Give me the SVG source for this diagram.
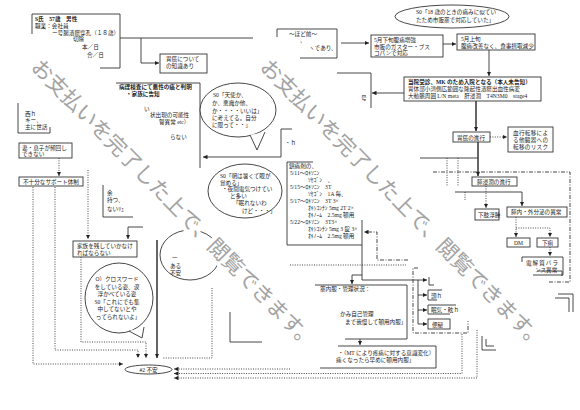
<svg xmlns="http://www.w3.org/2000/svg" width="580" height="410" viewBox="0 0 580 410">
<defs>
<marker id="ah" viewBox="0 0 6 6" refX="6" refY="3" markerWidth="4.5" markerHeight="4.5" markerUnits="userSpaceOnUse" orient="auto"><path d="M0,0L6,3L0,6z" fill="#222"/></marker>
</defs>
<style>
.bx{fill:#fff;stroke:#333;stroke-width:0.9}
.fr{fill:none;stroke:#333;stroke-width:0.9}
.ln{fill:none;stroke:#333;stroke-width:0.9}
.th{fill:none;stroke:#666;stroke-width:2}
.dt{fill:none;stroke:#333;stroke-width:0.9;stroke-dasharray:1 1.4}
.dd{fill:none;stroke:#333;stroke-width:0.9;stroke-dasharray:4 1.5 1 1.5}
.bub{fill:#fff;stroke:#333;stroke-width:0.9}
text{font-family:'Liberation Serif','Noto Sans CJK JP',serif;font-size:5.6px;fill:#222}
.b{font-weight:bold}
.m{text-anchor:middle}
.wm{font-family:'Noto Sans CJK JP',sans-serif;font-size:21px;fill:#a3a3a3;stroke:#fff;stroke-width:8;stroke-linejoin:round;paint-order:stroke}
</style>
<rect width="580" height="410" fill="#fff"/>

<g id="connectors">
<path class="ln" d="M120,38H253"/>
<path class="ln" d="M141,38V63H159" marker-end="url(#ah)"/>
<path class="ln" d="M341,43H369" marker-end="url(#ah)"/>
<path class="ln" d="M443,44H456" marker-end="url(#ah)"/>
<path class="ln" d="M489,50V76" marker-end="url(#ah)"/>
<path class="ln" d="M404,93H372" marker-end="url(#ah)"/>
<path class="th" d="M476,101V131" marker-end="url(#ah)"/>
<path class="dt" d="M490,137H507" marker-end="url(#ah)"/>
<path class="th" d="M478,142V176" marker-end="url(#ah)"/>
<path class="ln" d="M420,158H478"/>
<path class="dt" d="M447,158V186M458,158V186"/>
<path class="ln" d="M455,192H522V206" marker-end="url(#ah)"/>
<path class="dt" d="M465,192V200"/>
<path class="dt" d="M486,186V208" marker-end="url(#ah)"/>
<path class="dt" d="M516,217V237" marker-end="url(#ah)"/>
<path class="dt" d="M516,228H550V237" marker-end="url(#ah)"/>
<path class="dt" d="M550,247V256" marker-end="url(#ah)"/>
<path class="dd" d="M433,172H570V282H548"/>
<path class="dd" d="M418,268H413V333H468V321"/>
<path class="dd" d="M408,260H377V232H364" marker-end="url(#ah)"/>
<path class="dt" d="M290,265H406"/>
<path class="ln" d="M362,245V280H427" marker-end="url(#ah)"/>
<path class="ln" d="M362,275H352V284" marker-end="url(#ah)"/>
<path class="ln" d="M418,280V324"/>
<path class="ln" d="M418,295H427" marker-end="url(#ah)"/>
<path class="ln" d="M418,310H427" marker-end="url(#ah)"/>
<path class="ln" d="M418,324H427" marker-end="url(#ah)"/>
<path class="ln" d="M360,339V345" marker-end="url(#ah)"/>
<path class="dt" d="M290,369H174" marker-end="url(#ah)"/>
<path class="dt" d="M462,334V373.5H174" marker-end="url(#ah)"/>
<path class="dt" d="M477,330V378H174" marker-end="url(#ah)"/>
<path class="dt" d="M33,187V364H123" marker-end="url(#ah)"/>
<path class="dt" d="M55,187V350H138V358" marker-end="url(#ah)"/>
<path class="dt" d="M81,257V342H146V358" marker-end="url(#ah)"/>
<path class="th" d="M157,240V358" marker-end="url(#ah)"/>
<path class="dt" d="M212,288V358H163"/>
<path class="dt" d="M88,170V239" marker-end="url(#ah)"/>
<path class="ln" d="M143,227H128V239" marker-end="url(#ah)"/>
<path class="dt" d="M59,158V176" marker-end="url(#ah)"/>
<path class="ln" d="M292,129H281V157H203" marker-end="url(#ah)"/>
</g>

<g id="n-patient">
<path class="fr" d="M32,34V14H120V68H100"/>
<text x="35" y="21" class="b">S氏　57歳　男性</text>
<text x="35" y="28">職業：会社員</text>
<text x="52" y="35">ー号腸潰瘍穿孔（１８歳）</text>
<text x="73" y="41">切除</text>
<text x="82" y="49">本／日</text>
<text x="87" y="57">合／日</text>
</g>

<g id="n-knowledge">
<rect class="bx" x="160" y="54" width="47" height="19"/>
<text x="166" y="61">胃癌について</text>
<text x="166" y="68">の知識あり</text>
</g>

<g id="n-before">
<path class="fr" d="M277,37V29H337V58H300"/>
<text x="289" y="36">〜ほど前〜</text>
<text x="300" y="42">、</text>
<text x="309" y="50">ヽであり、</text>
</g>

<g id="n-late-may">
<rect class="bx" x="371" y="35" width="72" height="22"/>
<text x="374" y="42">5月下旬腹痛増強</text>
<text x="374" y="48.5">市販のガスター・ブス</text>
<text x="374" y="55">コパンで対応</text>
</g>

<g id="n-early-may">
<rect class="bx" x="457" y="34" width="78" height="16"/>
<text x="461" y="41">5月上旬</text>
<text x="461" y="47.5">腹痛改善なく、食事摂取減少</text>
</g>

<g id="n-bubble-18">
<ellipse class="bub" cx="452" cy="16.5" rx="57" ry="11.5"/>
<text x="416" y="14">S0「18 歳のときの痛みに似てい</text>
<text x="416" y="21.5">たため市販薬で対応していた」</text>
</g>

<g id="n-admission">
<rect class="bx" x="404" y="77" width="137" height="24"/>
<text x="408" y="84" class="b">当院受診、MK のため入院となる（本人未告知）</text>
<text x="408" y="91">胃体部小湾側広範囲な隆起性潰瘍出血性病変</text>
<text x="408" y="98">大動脈周囲 L/N meta　肝浸潤　T4N3M0　stage4</text>
</g>

<g id="n-boxc">
<path class="fr" d="M337,73H371V108"/>
<text x="361" y="100">号</text>
<text x="285" y="145">・ｈ</text>
</g>

<g id="n-pathology">
<path class="fr" d="M116,83H200V168"/>
<text x="119" y="89" class="b">病理検査にて悪性の癌と判明</text>
<text x="126" y="96" class="b">・家族に告知</text>
<text x="144" y="111">い</text>
<text x="150" y="117">状出現の可能性</text>
<text x="159" y="124">腎異常 etc）</text>
<text x="170" y="139">らない</text>
</g>

<g id="n-bubble-angel">
<ellipse class="bub" cx="238" cy="110" rx="38" ry="27"/>
<path class="bub" d="M250,135L257,150L265,132"/>
<text x="213" y="97">S0「天使か、</text>
<text x="212" y="105">か、悪魔か他、</text>
<text x="212" y="112.5">か・・・・いいは」</text>
<text x="212" y="120">に考えてる。自分</text>
<text x="212" y="127">に限って・・」</text>
</g>

<g id="n-bubble-morning">
<ellipse class="bub" cx="245" cy="191" rx="37" ry="27"/>
<text x="220" y="178">S0「朝は暑くて眼が</text>
<text x="220" y="184.5">覚める」</text>
<text x="222" y="191">・夜間電気つけてい</text>
<text x="230" y="198">と多い</text>
<text x="233" y="205">「眠れないわ</text>
<text x="242" y="212.5">けど・・・」</text>
</g>

<g id="n-meds">
<rect x="287" y="162" width="75" height="83" fill="#fff"/>
<path class="fr" d="M313,162H287V245H362V220"/>
<g style="font-size:5.3px">
<text x="289" y="168">鎮痛剤の、</text>
<text x="290" y="175">5/11〜ﾛｷｿﾆﾝ</text>
<text x="308" y="181.5">ｿｾｺﾞﾝ　、</text>
<text x="290" y="188.5">5/15〜ﾛｷｿﾆﾝ　3T</text>
<text x="308" y="195.5">ｿｾｺﾞﾝ　1A 毎、</text>
<text x="290" y="203">5/17〜ﾛｷｿﾆﾝ　3T 3×</text>
<text x="308" y="210">ｵｷｼｺﾝﾁﾝ 5mg 2T 2×</text>
<text x="308" y="217">ｵｷﾉｰﾑ　2.5mg 頓用</text>
<text x="290" y="224">5/22〜ﾛｷｿﾆﾝ　3T3×</text>
<text x="308" y="231">ｵｷｼｺﾝﾁﾝ 5mg 3 錠 3×</text>
<text x="308" y="238">ｵｷﾉｰﾑ　2.5mg 頓用</text>
</g>
</g>

<g id="n-gastric-progress">
<rect class="bx" x="453" y="132" width="37" height="10"/>
<text x="457" y="139.5">胃癌の進行</text>
</g>

<g id="n-metastasis">
<rect class="bx" x="508" y="127" width="45" height="25"/>
<text x="513" y="135" textLength="35" lengthAdjust="spacing">血行転移によ</text>
<text x="513" y="142" textLength="35" lengthAdjust="spacing">る他臓器への</text>
<text x="513" y="149" textLength="35" lengthAdjust="spacing">転移のリスク</text>
</g>

<g id="n-pancreas-progress">
<rect class="bx" x="472" y="177" width="45" height="9"/>
<text x="477" y="183.8">膵浸潤の進行</text>
</g>

<g id="n-edema">
<rect class="bx" x="475" y="209" width="24" height="11"/>
<text x="478" y="216.5">下肢浮腫</text>
</g>

<g id="n-pancreas-func">
<rect class="bx" x="507" y="207" width="60" height="10"/>
<text x="511" y="214.3">膵内・外分泌の異常</text>
</g>

<g id="n-dm">
<rect class="bx" x="507" y="238" width="23" height="9"/>
<text x="518.5" y="244.8" class="m">DM</text>
</g>

<g id="n-diarrhea">
<rect class="bx" x="537" y="238" width="21" height="9"/>
<text x="547.5" y="244.8" class="m">下痢</text>
</g>

<g id="n-electrolyte">
<path class="fr" d="M522,262V257H563V275H533"/>
<text x="526" y="265" textLength="32" lengthAdjust="spacing">電解質バラ</text>
<text x="535" y="272">ンス異常</text>
</g>

<g id="n-symptoms">
<path class="fr" d="M429,277V285H434"/>
<path class="fr" d="M442,290H428V300H437"/>
<text x="431" y="297.5">頭ｈ</text>
<path class="fr" d="M456,305H428V314H450"/>
<text x="431" y="312">眠気・眩ｈ</text>
<rect class="bx" x="428" y="319" width="22" height="10"/>
<text x="432" y="326.5">便秘</text>
</g>

<g id="n-med-manage">
<path class="fr" d="M315,285H407V339H345"/>
<text x="320" y="291">薬内服・管理状況：</text>
<text x="340" y="316">かみ自己管理</text>
<text x="345" y="324">まで我慢して頓用内服」</text>
</g>

<g id="n-mt">
<path class="fr" d="M338,346H436V368H320"/>
<text x="338" y="355">・（MT により疼痛に対する意識変化）</text>
<text x="336" y="362">痛くなったら早めに頓用内服」</text>
</g>

<g id="n-family-care">
<path class="fr" d="M18,103V133H50V127"/>
<text x="25" y="116">西ｈ</text>
<text x="25" y="121.5">キー、</text>
<text x="25" y="129">主に世話</text>
</g>

<g id="n-wife-son">
<rect class="bx" x="19" y="143" width="53" height="15"/>
<text x="22" y="150">妻・息子が頻回し</text>
<text x="22" y="156">できない</text>
</g>

<g id="n-support">
<rect class="bx" x="19" y="177" width="64" height="9"/>
<text x="23" y="183.8">不十分なサポート体制</text>
</g>

<g id="n-role">
<path class="fr" d="M103,185V217H133"/>
<text x="107" y="195">余</text>
<text x="107" y="202">持つ、</text>
<text x="107" y="211">ないﾘｭ</text>
</g>

<g id="n-leave-family">
<rect class="bx" x="73" y="241" width="64" height="16"/>
<text x="77" y="248">家族を残していかなけ</text>
<text x="77" y="254.5">ればならない</text>
</g>

<g id="n-bubble-anxiety">
<ellipse class="bub" cx="190" cy="255" rx="30" ry="25"/>
<text x="172" y="260">一</text>
<text x="170" y="267.5">ある</text>
<text x="170" y="275">不安</text>
</g>

<g id="n-bubble-crossword">
<ellipse class="bub" cx="119" cy="298" rx="34" ry="35"/>
<path class="bub" d="M129,331L142,338L144,327"/>
<text x="117" y="281" class="m">O）クロスワード</text>
<text x="117" y="288.5" class="m">をしている姿、涙</text>
<text x="117" y="296" class="m">浮かべている姿</text>
<text x="117" y="303.5" class="m">S0「これにでも集</text>
<text x="117" y="311" class="m">中してないとや</text>
<text x="118" y="318.5" class="m">ってられないよ」</text>
</g>

<g id="n-anxiety2">
<ellipse class="bub" cx="148.5" cy="369.5" rx="23.5" ry="4.5"/>
<text x="148.5" y="371.6" class="m">#2 不安</text>
</g>

<g id="fragments">
<path class="fr" d="M230,312V342H262"/>
<path class="fr" d="M537,271H562V276"/>
<path class="fr" d="M558,294H573V312M555,298H569V312"/>
<path class="fr" d="M482,336V350H496M486,339V346H494"/>
</g>

<g id="watermark">
<text class="wm" transform="translate(30,68) rotate(45.5)">お支払いを完了した上で、閲覧できます。</text>
<text class="wm" transform="translate(259,68) rotate(45.5)">お支払いを完了した上で、閲覧できます。</text>
</g>
</svg>
